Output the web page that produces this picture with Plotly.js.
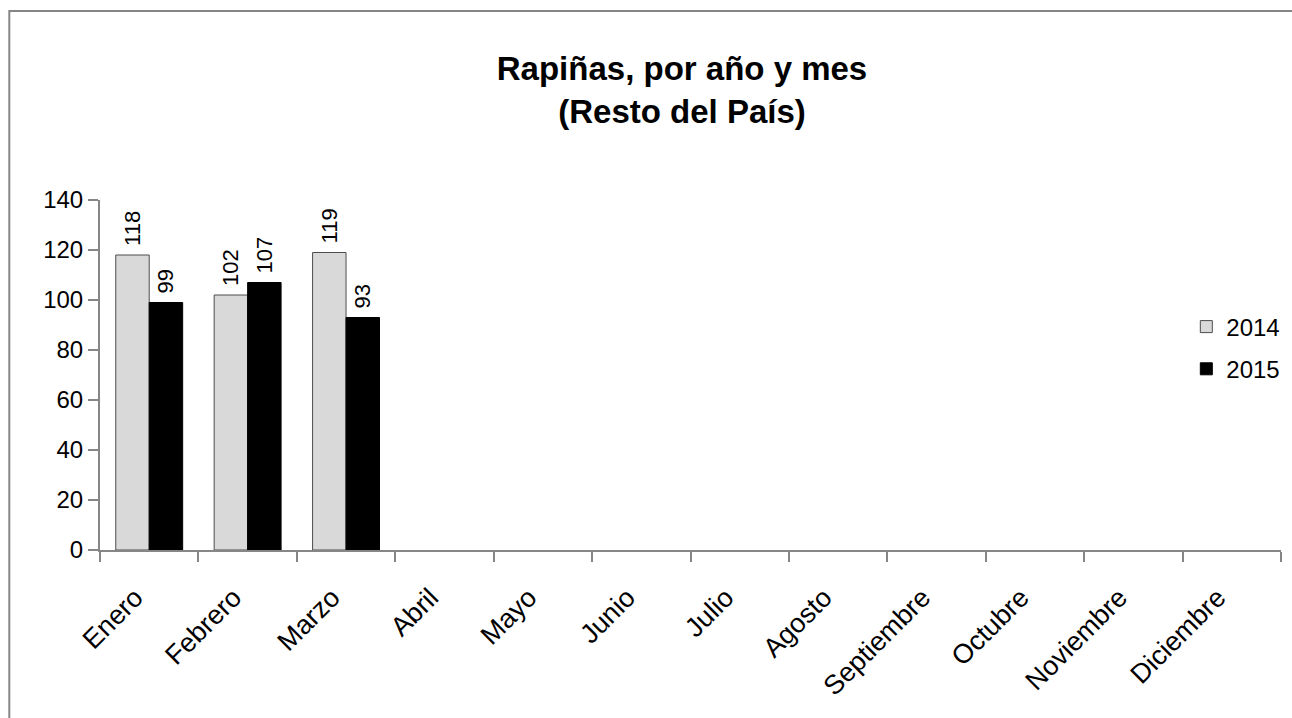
<!DOCTYPE html>
<html>
<head>
<meta charset="utf-8">
<script src="https://cdn.plot.ly/plotly-3.0.1.min.js"></script>
<style>
html,body{margin:0;padding:0;background:#fff;}
#chart{width:1292px;height:718px;}
</style>
</head>
<body>
<div id="chart"></div>
<script>
const months = ["Enero","Febrero","Marzo","Abril","Mayo","Junio","Julio","Agosto","Septiembre","Octubre","Noviembre","Diciembre"];
const values2014 = [118, 102, 119, null, null, null, null, null, null, null, null, null];
const values2015 = [99, 107, 93, null, null, null, null, null, null, null, null, null];
const seriesNames = ["2014", "2015"];
const yTicks = [0, 20, 40, 60, 80, 100, 120, 140];

const FONT = "Liberation Sans, Arial, sans-serif";
const labels = v => v.map(x => x === null ? "" : "\u00a0" + String(x));

const traces = [
  {
    type: "bar", name: seriesNames[0], x: months, y: values2014, legendgroup: "a",
    text: labels(values2014), textposition: "outside", textangle: -90, constraintext: "none",
    textfont: {family: FONT, size: 22, color: "#000"},
    marker: {color: "#d9d9d9", line: {color: "#4d4d4d", width: 1}},
    cliponaxis: false
  },
  {
    type: "bar", name: seriesNames[1], x: months, y: values2015, legendgroup: "b",
    text: labels(values2015), textposition: "outside", textangle: -90, constraintext: "none",
    textfont: {family: FONT, size: 22, color: "#000"},
    marker: {color: "#000000", line: {color: "#000000", width: 1}},
    cliponaxis: false
  }
];

const L = 100, R = 7, T = 200, B = 168;
const W = 1292, H = 718;
const pw = W - L - R, ph = H - T - B;
const px = xx => (xx - L) / pw;
const py = yy => (H - B - yy) / ph;

const layout = {
  width: W, height: H,
  margin: {l: L, r: R, t: T, b: B, pad: 0},
  paper_bgcolor: "#fff", plot_bgcolor: "rgba(0,0,0,0)",
  font: {family: FONT, color: "#000"},
  title: {
    text: "<b>Rapiñas, por año y mes<br>(Resto del País)</b>",
    font: {family: FONT, size: 33, color: "#000"},
    x: 682 / 1292, xanchor: "center", xref: "container",
    y: 1 - 80/718, yanchor: "middle", yref: "container"
  },
  barmode: "group", bargap: 0.32, bargroupgap: 0,
  xaxis: {
    type: "category", range: [-0.5, 11.5],
    showline: true, linecolor: "#868686", linewidth: 2,
    ticks: "outside", tickson: "boundaries", ticklen: 10, tickcolor: "#868686", tickwidth: 2,
    tickangle: -45, tickfont: {family: FONT, size: 27, color: "#000"},
    ticklabelstandoff: 19, ticklabelshift: -14,
    showgrid: false, zeroline: false, fixedrange: true
  },
  yaxis: {
    range: [0, 140], tickvals: yTicks, ticktext: yTicks.map(String),
    showline: true, linecolor: "#868686", linewidth: 2,
    ticks: "outside", ticklen: 10, tickcolor: "#868686", tickwidth: 2,
    tickfont: {family: FONT, size: 24, color: "#000"},
    showgrid: false, zeroline: false, fixedrange: true
  },
  showlegend: true,
  legend: {
    x: px(1190), xanchor: "left", y: py(348), yanchor: "middle",
    font: {family: FONT, size: 24, color: "#000"},
    bgcolor: "rgba(0,0,0,0)", itemwidth: 30, traceorder: "grouped", tracegroupgap: 8
  },
  shapes: [
    {type: "rect", xref: "paper", yref: "paper",
     x0: px(9), x1: px(1300), y0: py(730), y1: py(11),
     line: {color: "#868686", width: 2}, fillcolor: "rgba(0,0,0,0)", layer: "below"}
  ]
};

Plotly.newPlot("chart", traces, layout, {displayModeBar: false, staticPlot: true});
</script>
</body>
</html>
